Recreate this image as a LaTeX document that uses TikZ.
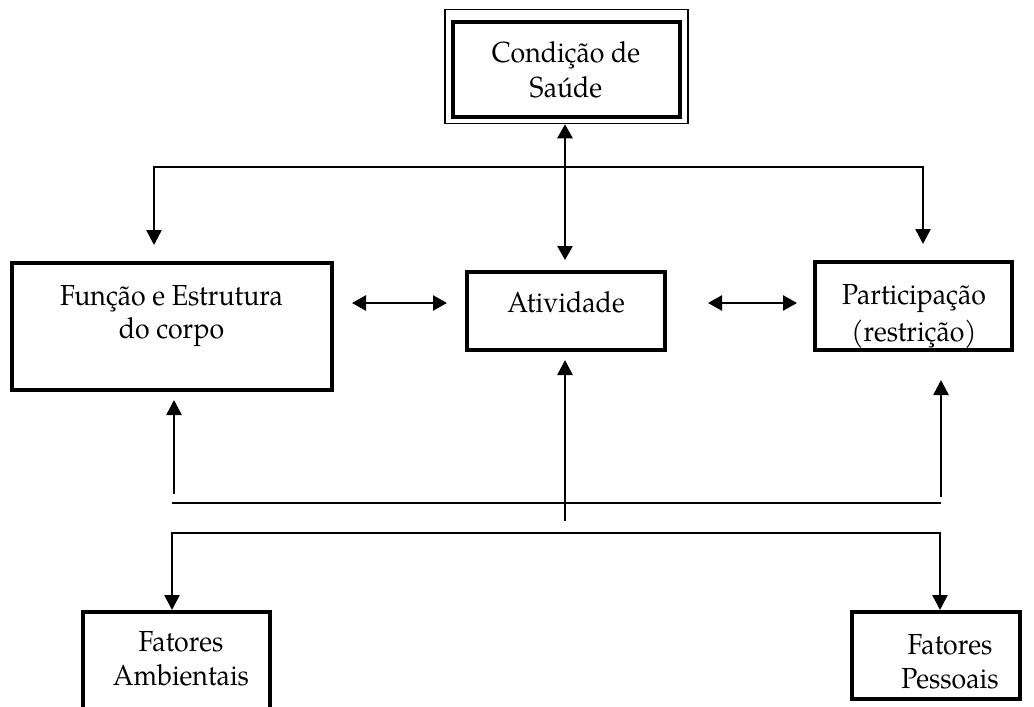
\documentclass[tikz,border=0pt]{standalone}
\usepackage{fontspec}
\setmainfont{TeX Gyre Pagella}[FakeStretch=0.92]
\usetikzlibrary{arrows.meta}
\begin{document}
\begin{tikzpicture}[x=1pt,y=-1pt,
  box/.style={draw, line width=4pt, inner sep=0pt},
  txt/.style={font=\fontsize{29}{34}\selectfont, align=center, inner sep=0pt},
  link/.style={line width=2.6pt},
  arr/.style={-{Triangle[length=15pt,width=15pt]}},
  dbl/.style={{Triangle[length=14pt,width=15pt]}-{Triangle[length=14pt,width=15pt]}}
]
\clip (0,0) rectangle (1034,707);

% boxes
\node[draw, line width=1.5pt, minimum width=243pt, minimum height=114pt, inner sep=0pt] (saudeout) at (566.5,66.5) {};
\node[box, minimum width=227pt, minimum height=95pt] (saude) at (566.5,69.5) {};
\node[box, minimum width=320pt, minimum height=127pt] (funcao) at (172,326.5) {};
\node[box, minimum width=198pt, minimum height=78pt] (atividade) at (566,311) {};
\node[box, minimum width=197pt, minimum height=88pt] (particip) at (913.5,306) {};
\node[box, minimum width=187pt, minimum height=120pt] (ambient) at (176.5,672) {};
\node[box, minimum width=168pt, minimum height=87pt] (pessoal) at (936,655.5) {};

% labels
\node[txt, font=\fontsize{29}{35}\selectfont] (saudetxt) at (566,72.5) {\strut Condição de\\\strut Saúde};
\node[txt, font=\fontsize{29}{33}\selectfont] (funcaotxt) at (171.5,315) {\strut Função e Estrutura\\\strut do corpo};
\node[txt] (atividadetxt) at (566,305.2) {\strut Atividade};
\begin{scope}
  % the second line runs into the lower border and is cut there
  \clip ([shift={(4,-4)}]particip.south west) rectangle ([shift={(-4,4)}]particip.north east);
  \node[txt, font=\fontsize{29}{37}\selectfont] (partxt) at (914,315.1) {\strut Participação\\\strut (restrição)};
\end{scope}
\node[txt] (ambtxt) at (181,662) {\strut Fatores\\\strut Ambientais};
\node[txt] (pestxt) at (950,665) {\strut Fatores\\\strut Pessoais};

% links from the health condition
\coordinate (hubtop) at (565,167);
\coordinate (tl) at (154,167);
\coordinate (tr) at (923,167);
\draw[link, dbl, shorten >=10pt] (saudeout.south -| hubtop) -- (atividade.north -| hubtop);
\draw[link, arr, shorten >=16pt] (hubtop) -| (funcao.north -| tl);
\draw[link, arr, shorten >=16pt] (hubtop) -| (particip.north -| tr);

% links between the three components
\draw[link, dbl, shorten <=18pt, shorten >=18pt] (funcao.east |- 0,303) -- (atividade.west |- 0,303);
\draw[link, dbl, shorten <=41pt, shorten >=16pt] (atividade.east |- 0,303) -- (particip.west |- 0,303);

% context factors
\coordinate (upL) at (174,494);
\coordinate (upC) at (565,521);
\coordinate (upR) at (941,497);
\draw[link, arr, shorten >=8pt] (upL) -- (upL |- funcao.south);
\draw[link, arr, shorten >=8pt] (upC) -- (upC |- atividade.south);
\draw[link, arr, shorten >=28pt] (upR) -- (upR |- particip.south);
\coordinate (midL) at (172,503);
\coordinate (midR) at (941,503);
\draw[link] (midL) -- (midR);
\coordinate (lowC) at (565,533);
\coordinate (lowL) at (172,533);
\coordinate (lowR) at (940,533);
\draw[link, arr] (lowC) -| (ambient.north -| lowL);
\draw[link, arr] (lowC) -| (pessoal.north -| lowR);
\end{tikzpicture}
\end{document}
